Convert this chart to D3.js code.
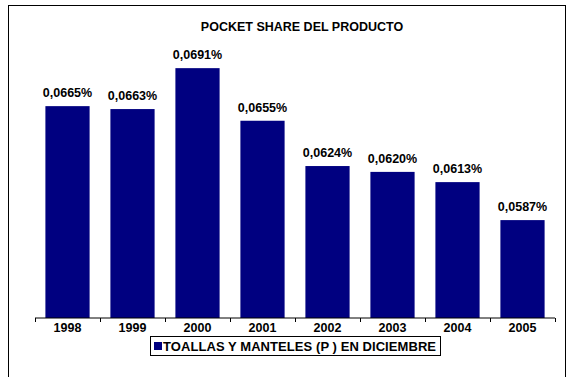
<!DOCTYPE html>
<html><head><meta charset="utf-8">
<script src="https://cdn.jsdelivr.net/npm/d3@7"></script>
<style>body{margin:0;background:#fff}svg{display:block}text{font-family:"Liberation Sans",Arial,sans-serif;font-weight:bold;fill:#000}</style>
</head><body>
<script>
const categories = ["1998","1999","2000","2001","2002","2003","2004","2005"];
const values = [0.0665,0.0663,0.0691,0.0655,0.0624,0.0620,0.0613,0.0587];
const valueLabels = ["0,0665%","0,0663%","0,0691%","0,0655%","0,0624%","0,0620%","0,0613%","0,0587%"];
const title = "POCKET SHARE DEL PRODUCTO";
const seriesName = "TOALLAS Y MANTELES (P ) EN DICIEMBRE";

const W=574,H=377;
const svg=d3.select("body").append("svg").attr("width",W).attr("height",H);
svg.append("rect").attr("x",8.5).attr("y",5.5).attr("width",557).attr("height",380).attr("fill","#fff").attr("stroke","#000").attr("stroke-width",1);

const x=d3.scaleBand().domain(categories).range([35,555]).paddingInner(0.32).paddingOuter(0.16);
const y=d3.scaleLinear().domain([0.052,0.070]).range([318,55]);

svg.append("text").attr("x",302).attr("y",31).attr("text-anchor","middle").style("font-size","12.5px").text(title);

svg.selectAll("rect.bar").data(values).join("rect").attr("class","bar")
 .attr("x",(d,i)=>x(categories[i])).attr("width",x.bandwidth())
 .attr("y",d=>y(d)).attr("height",d=>318-y(d)).attr("fill","#000080");

svg.selectAll("text.lab").data(values).join("text").attr("class","lab")
 .attr("x",(d,i)=>x(categories[i])+x.bandwidth()/2).attr("y",d=>y(d)-9)
 .attr("text-anchor","middle").style("font-size","12.5px").text((d,i)=>valueLabels[i]);

const ax=svg.append("g").attr("transform","translate(0,318)");
ax.append("line").attr("x1",35).attr("x2",555).attr("stroke","#000");
const edges=d3.range(categories.length+1).map(i=>35+i*(520/categories.length));
ax.selectAll("line.t").data(edges).join("line").attr("class","t").attr("x1",d=>d+0.5).attr("x2",d=>d+0.5).attr("y1",0).attr("y2",4).attr("stroke","#000");
ax.selectAll("text").data(categories).join("text").attr("x",d=>x(d)+x.bandwidth()/2).attr("y",14).attr("text-anchor","middle").style("font-size","12.5px").text(d=>d);

const lg=svg.append("g");
lg.append("rect").attr("x",150.5).attr("y",336.5).attr("width",290).attr("height",19).attr("fill","#fff").attr("stroke","#000");
lg.append("rect").attr("x",154).attr("y",342).attr("width",8).attr("height",8).attr("fill","#000080");
lg.append("text").attr("x",163).attr("y",351).attr("textLength",273).style("font-size","13px").text(seriesName);
</script>
</body></html>
